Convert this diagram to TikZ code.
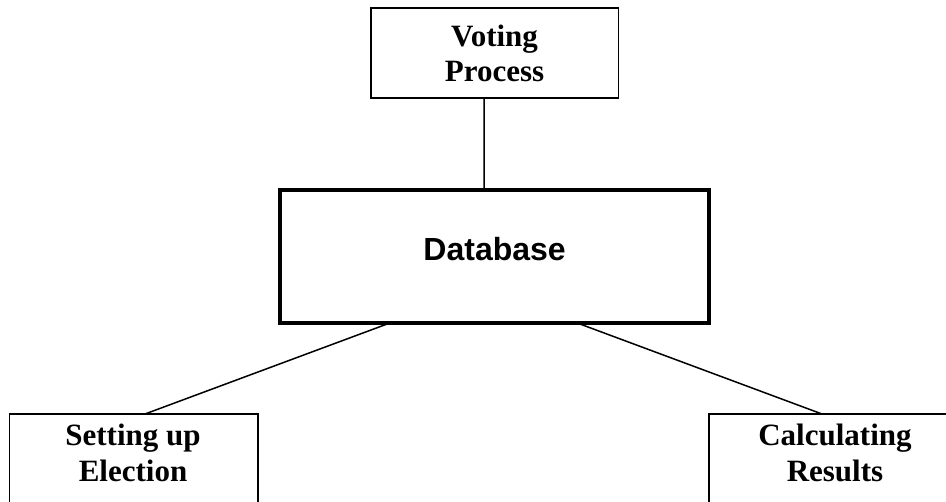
\documentclass[tikz,border=0pt]{standalone}
\usepackage{fontspec}
\setmainfont{Liberation Serif}
\newfontfamily\headfont{Liberation Sans}
\begin{document}
\begin{tikzpicture}[x=1pt,y=-1pt,
  box/.style={draw=black,rectangle,inner sep=0pt,outer sep=0pt,line width=1.7pt},
  mainbox/.style={box,line width=4pt},
  link/.style={draw=black,line width=1.5pt},
  lbl/.style={inner sep=0pt,anchor=base,font=\fontsize{31}{36}\selectfont\bfseries},
  dblbl/.style={inner sep=0pt,anchor=base,font=\headfont\fontsize{32}{38}\selectfont\bfseries}]
  \useasboundingbox (0,0) rectangle (946,502);
  \clip (0,0) rectangle (946,502);
  % boxes
  \node[box,minimum width=247.8pt,minimum height=89.8pt] (vp) at (494.6,53.1) {};
  \node[mainbox,minimum width=428.7pt,minimum height=133.6pt] (db) at (494.65,256.5) {};
  \node[box,minimum width=248.5pt,minimum height=140pt] (se) at (133.75,484) {};
  \node[box,minimum width=276pt,minimum height=140pt] (cr) at (847,484) {};
  % labels
  \node[lbl] (vp1) at (494.6,47) {Voting};
  \node[lbl] (vp2) at (494.6,82) {Process};
  \node[dblbl] (dbt) at (494.6,260.7) {Database};
  \node[lbl] (se1) at (133,446) {Setting up};
  \node[lbl] (se2) at (133,482) {Election};
  \node[lbl] (cr1) at (835,446) {Calculating};
  \node[lbl] (cr2) at (835,482) {Results};
  % connectors
  \draw[link] ([xshift=-10.6pt]vp.south) -- ([xshift=-10.6pt]db.north);
  \draw[link] ([xshift=-105.6pt]db.south) -- ([xshift=11.25pt]se.north);
  \draw[link] ([xshift=83.4pt]db.south) -- ([xshift=-25pt]cr.north);
\end{tikzpicture}
\end{document}
